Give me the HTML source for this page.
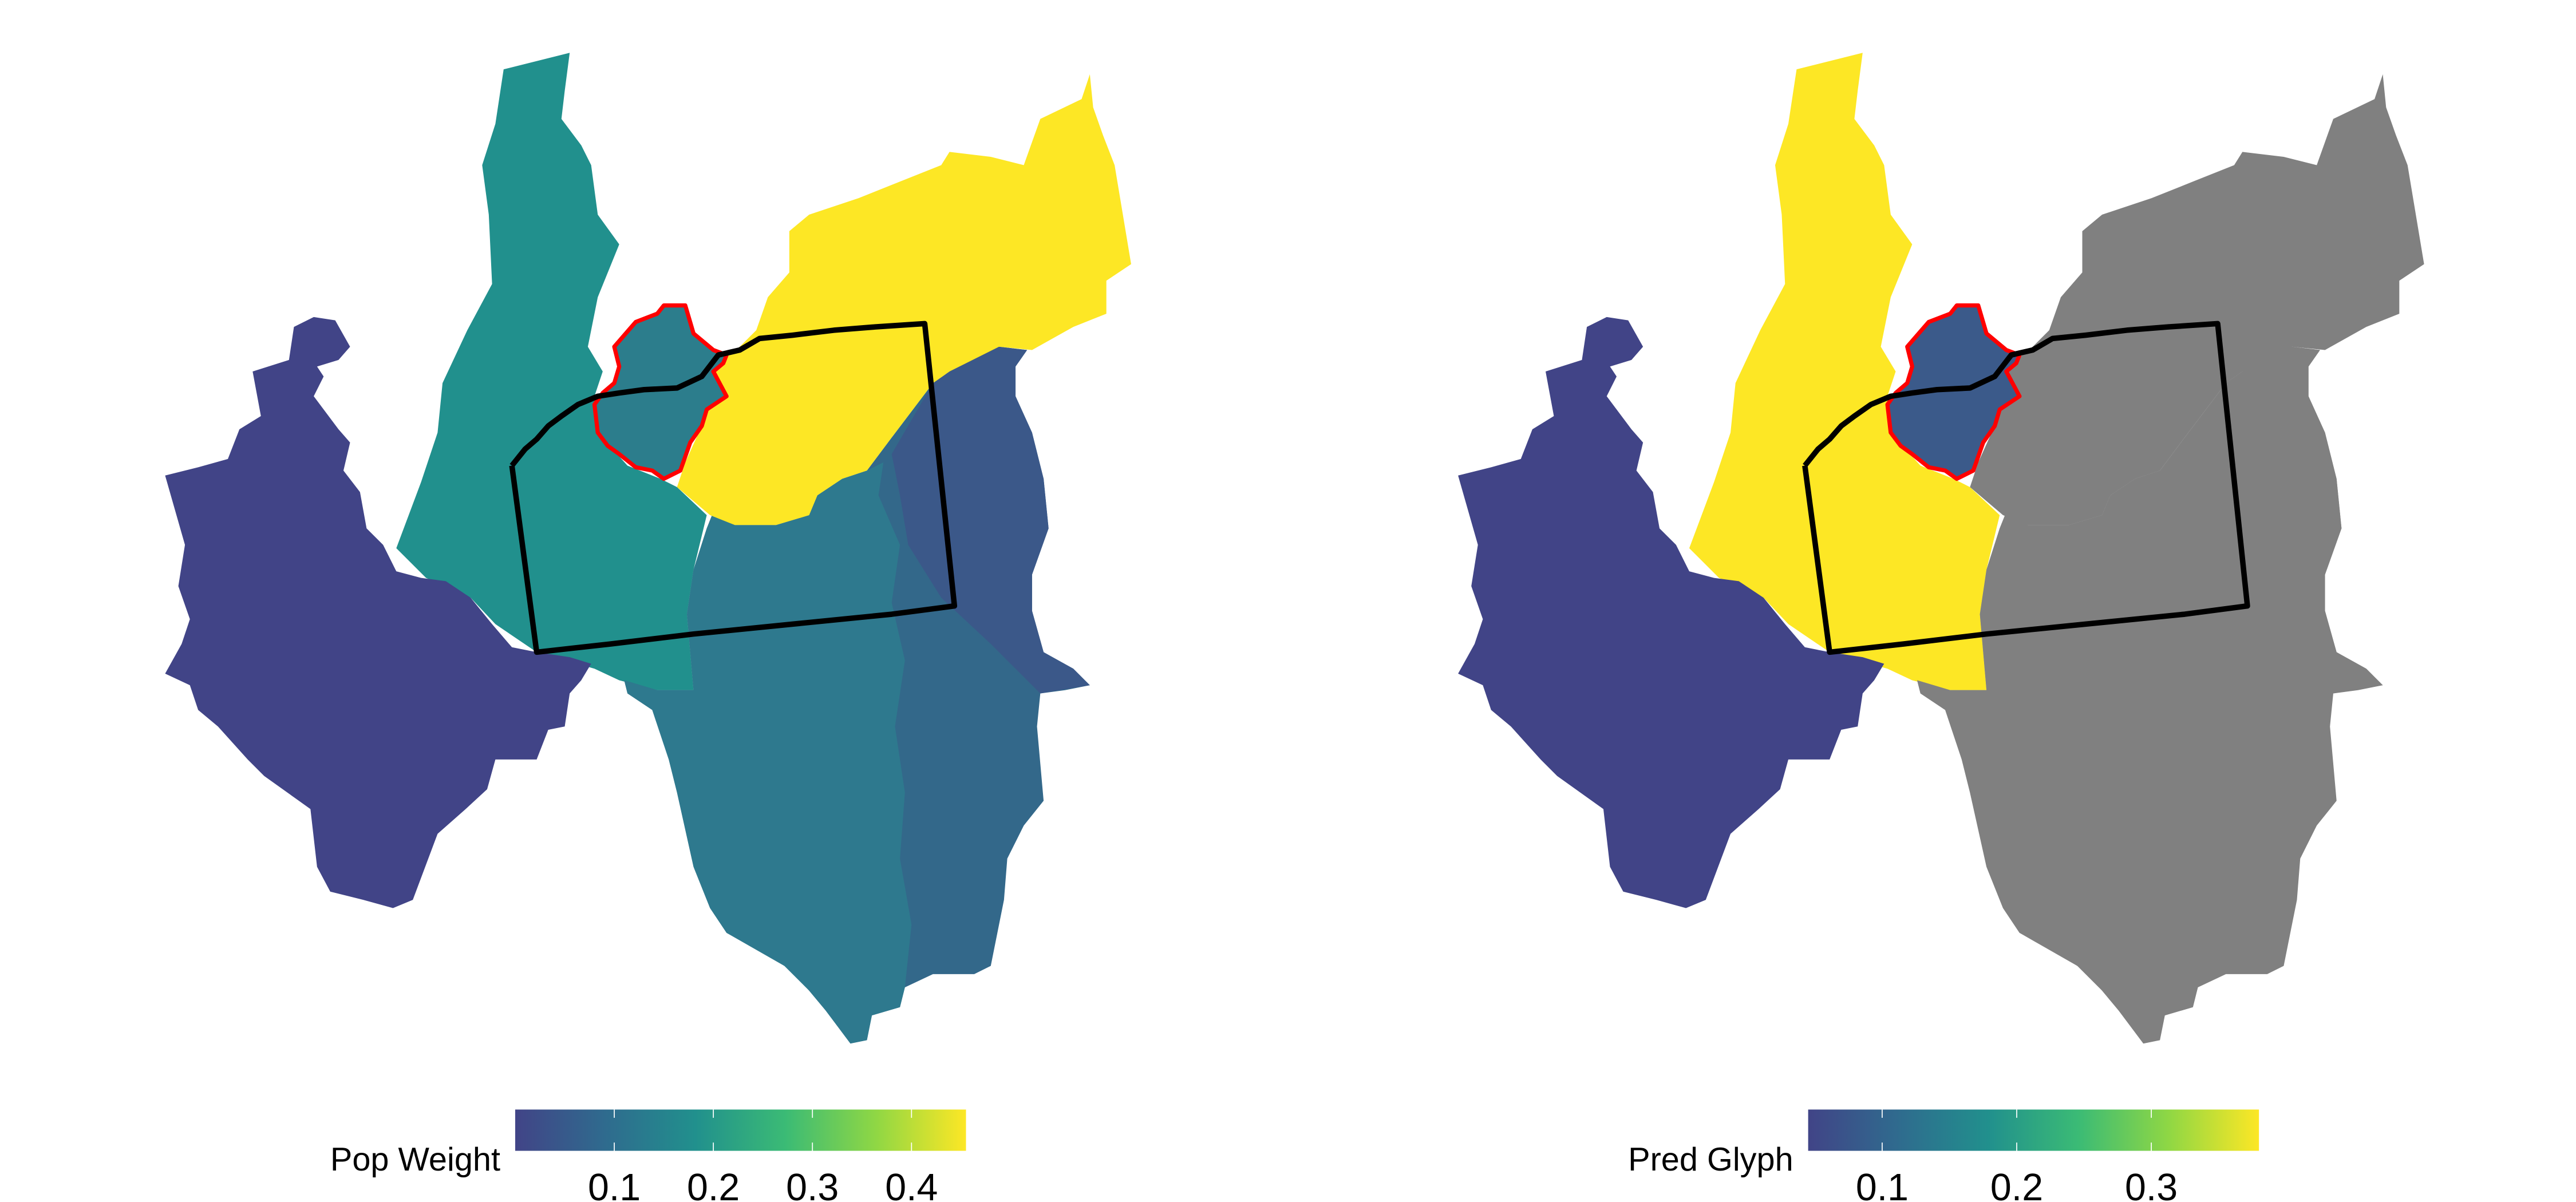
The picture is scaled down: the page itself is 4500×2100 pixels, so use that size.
<!DOCTYPE html>
<html><head><meta charset="utf-8"><style>
html,body{margin:0;padding:0;background:#fff;}
svg{display:block;}
text{font-family:"Liberation Sans",sans-serif;}
</style></head><body>
<svg id="chart" width="4500" height="2100" viewBox="0 0 1560 728" xmlns="http://www.w3.org/2000/svg">
<defs>
<linearGradient id="vir" x1="0" x2="1" y1="0" y2="0">
<stop offset="0" stop-color="#414487"/><stop offset="0.2" stop-color="#2f6b8e"/>
<stop offset="0.4" stop-color="#21908d"/><stop offset="0.6" stop-color="#3bbb75"/>
<stop offset="0.8" stop-color="#8fd744"/><stop offset="1" stop-color="#fde725"/>
</linearGradient>
</defs>
<g id="left"></g>
<g id="right" transform="translate(783,0)"></g>
</svg>
<script>
const legendTitles = ["Pop Weight", "Pred Glyph"];
const legendMin = [0.0, 0.045];
const legendMax = [0.455, 0.38];
const legendTicks = [[0.1,0.2,0.3,0.4],[0.1,0.2,0.3]];
const tickLabels = [["0.1","0.2","0.3","0.4"],["0.1","0.2","0.3"]];

const NS="http://www.w3.org/2000/svg";
const shapes = {
 teal:"305,42 345,32 342,55 340,72 352,88 358,100 362,130 375,148 362,180 356,210 365,225 360,240 362,262 380,282 400,290 410,295 428,312 420,345 416,372 420,418 398,418 375,412 360,405 325,395 300,378 285,362 258,350 240,332 255,292 265,262 268,232 283,200 298,172 296,130 292,100 300,75",
 blue:"565,232 575,225 590,212 605,210 622,212 615,222 615,240 625,262 632,290 635,320 625,348 625,370 632,395 650,405 660,415 645,418 630,420 628,440 632,485 620,500 610,520 608,545 600,585 590,590 565,590 548,598 545,610 528,615 525,630 515,632 500,612 490,600 482,590 475,585 460,575 440,565 430,550 420,525 410,480 405,460 395,430 380,420 378,412 398,418 420,418 416,372 420,345 428,320 432,310 445,318 470,318 490,312 495,300 510,290 525,285 540,265",
 blueTop:"565,232 575,225 590,212 605,210 622,212 615,222 615,240 625,262 632,290 635,320 625,348 625,370 632,395 650,405 660,415 630,420 600,390 570,362 550,330 545,300 540,275",
 mid:"378,412 398,418 420,418 416,372 420,345 428,320 432,310 445,318 470,318 490,312 495,300 510,290 525,285 535,280 532,300 545,330 540,365 548,400 542,440 548,480 545,520 552,560 548,598 545,610 528,615 525,630 515,632 500,612 490,600 475,585 440,565 430,550 420,525 410,480 405,460 395,430 380,420",
 yellow:"478,140 490,130 520,120 545,110 570,100 575,92 600,95 620,100 630,72 655,60 660,45 662,65 668,82 675,100 680,130 685,160 670,170 670,190 650,198 625,212 605,210 575,225 565,232 540,265 525,285 510,290 495,300 490,312 470,318 445,318 430,312 410,295 415,280 425,258 428,248 440,240 432,225 438,218 448,210 458,200 465,180 478,165",
 purple:"153,225 175,218 178,198 190,192 203,194 212,210 205,218 192,222 196,228 190,240 205,260 212,268 208,285 218,298 222,320 232,330 240,346 255,350 270,352 285,362 298,378 310,392 325,395 345,398 358,402 352,412 345,420 342,440 332,442 325,460 300,460 295,478 282,490 265,505 250,545 238,550 220,545 200,540 192,525 188,490 160,470 150,460 132,440 120,430 115,415 100,408 110,390 115,375 108,355 112,330 100,288 120,283 138,278 145,260 158,252",
 red:"372,210 385,195 398,190 402,185 415,185 420,202 432,212 440,215 438,220 432,225 440,240 428,248 425,258 418,268 412,285 402,290 395,285 385,283 375,275 368,270 362,262 360,245 365,238 372,232 375,222"
};
const fills=[
 {teal:"#21908d",blue:"#33688a",blueTop:"#3b5889",mid:"#2e798e",yellow:"#fde725",purple:"#414487",red:"#2c7d8c"},
 {teal:"#fde725",blue:"#808080",blueTop:"#808080",mid:"#808080",yellow:"#808080",purple:"#414487",red:"#3b5a8a"}
];
const order=["teal","blue","blueTop","mid","yellow","purple","red"];
const boundary="310,282 318,272 325,266 332,258 340,252 350,245 362,240 375,238 390,236 410,235 425,228 435,215 448,212 460,205 480,203 505,200 530,198 560,196 578,367 540,372 480,378 420,384 370,390 325,395 310,282";

["left","right"].forEach((id,p)=>{
 const g=document.getElementById(id);
 order.forEach(k=>{
  const pg=document.createElementNS(NS,"polygon");
  pg.setAttribute("points",shapes[k]);
  pg.setAttribute("fill",fills[p][k]);
  if(k==="red"){pg.setAttribute("stroke","#ff0000");pg.setAttribute("stroke-width","2.5");pg.setAttribute("stroke-linejoin","round");}
  
  
  g.appendChild(pg);
 });
 const b=document.createElementNS(NS,"polyline");
 b.setAttribute("points",boundary);
 b.setAttribute("fill","none");b.setAttribute("stroke","#000");b.setAttribute("stroke-width","3.3");b.setAttribute("stroke-linejoin","round");
 
 
 g.appendChild(b);

 const x0=312,x1=585,y0=672,y1=697;
 const sx=v=>x0+(v-legendMin[p])/(legendMax[p]-legendMin[p])*(x1-x0);
 const lg=document.createElementNS(NS,"g");
 
 
 g.appendChild(lg);
 const r=document.createElementNS(NS,"rect");
 r.setAttribute("x",x0);r.setAttribute("y",y0);r.setAttribute("width",x1-x0);r.setAttribute("height",y1-y0);r.setAttribute("fill","url(#vir)");
 
 
 lg.appendChild(r);
 legendTicks[p].forEach((v,i)=>{
  const x=sx(v);
  [[y0,y0+5],[y1-5,y1]].forEach(([a,c])=>{
   const l=document.createElementNS(NS,"line");
   l.setAttribute("x1",x);l.setAttribute("x2",x);l.setAttribute("y1",a);l.setAttribute("y2",c);
   l.setAttribute("stroke","#fff");l.setAttribute("stroke-width","0.6");
   
   
   lg.appendChild(l);
  });
  const t=document.createElementNS(NS,"text");
  t.setAttribute("x",x);t.setAttribute("y",727);t.setAttribute("text-anchor","middle");t.setAttribute("font-size","23");
  t.textContent=tickLabels[p][i];
  
  
  lg.appendChild(t);
 });
 const tt=document.createElementNS(NS,"text");
 tt.setAttribute("x",303);tt.setAttribute("y",709);tt.setAttribute("text-anchor","end");tt.setAttribute("font-size","20");
 tt.textContent=legendTitles[p];
 
 
 lg.appendChild(tt);
});
</script>
</body></html>
